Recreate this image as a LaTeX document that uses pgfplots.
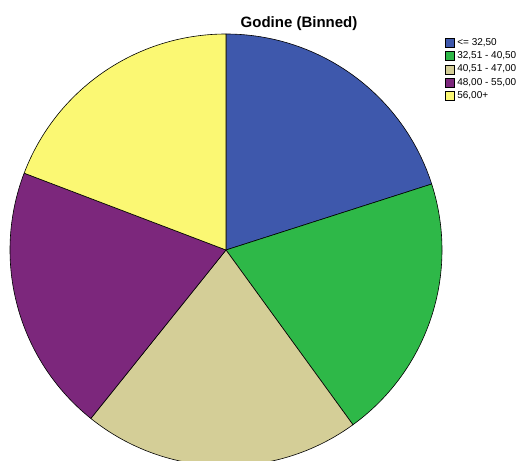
\documentclass[border=0pt]{standalone}
\usepackage{pgfplots}
\pgfplotsset{compat=1.18}
\usepackage{pgfplotstable}
\usepackage{fontspec}
\setmainfont{Liberation Sans}
\definecolor{c0}{RGB}{62,88,172}
\definecolor{c1}{RGB}{46,184,72}
\definecolor{c2}{RGB}{212,206,151}
\definecolor{c3}{RGB}{124,39,124}
\definecolor{c4}{RGB}{251,248,115}
\pgfplotstableread{
value
20.06
19.94
20.76
20.03
19.21
}\piedata
\begin{document}
\begin{tikzpicture}
\useasboundingbox (0,0) rectangle (520pt,461pt);
\begin{axis}[
  scale only axis, width=520pt, height=461pt,
  xmin=0, xmax=520, ymin=0, ymax=461,
  hide axis, clip=true,
  legend style={at={(axis cs:444.5,424)}, anchor=north west, draw=none, fill=none,
    font=\fontsize{10}{12}\selectfont, inner sep=0pt, row sep=2.4pt,
    nodes={inner sep=1.2pt, anchor=west}},
  legend cell align=left,
  legend image code/.code={\draw[#1, draw=black, line width=0.4pt] (0pt,-4.5pt) rectangle (9pt,4.5pt); \path (11pt,0pt);},
]
\pgfplotstablegetrowsof{\piedata}
\pgfmathtruncatemacro{\nrows}{\pgfplotsretval-1}
\gdef\cumangle{90}
\pgfplotsforeachungrouped \i in {0,...,\nrows}{%
  \pgfplotstablegetelem{\i}{value}\of\piedata
  \pgfmathsetmacro{\endangle}{\cumangle-3.6*\pgfplotsretval}%
  \edef\temp{\noexpand\fill[c\i, draw=black, line width=0.6pt, line join=round] (axis cs:226,211) -- ++(\cumangle:216pt) arc[start angle=\cumangle, end angle=\endangle, radius=216pt] -- cycle;}%
  \temp
  \global\let\cumangle\endangle
}
\addlegendimage{fill=c0}\addlegendentry{<= 32,50}
\addlegendimage{fill=c1}\addlegendentry{32,51 - 40,50}
\addlegendimage{fill=c2}\addlegendentry{40,51 - 47,00}
\addlegendimage{fill=c3}\addlegendentry{48,00 - 55,00}
\addlegendimage{fill=c4}\addlegendentry{56,00+}
\node[font=\bfseries\fontsize{15}{18}\selectfont, anchor=base] at (axis cs:299,433) {Godine (Binned)};
\end{axis}
\end{tikzpicture}
\end{document}
